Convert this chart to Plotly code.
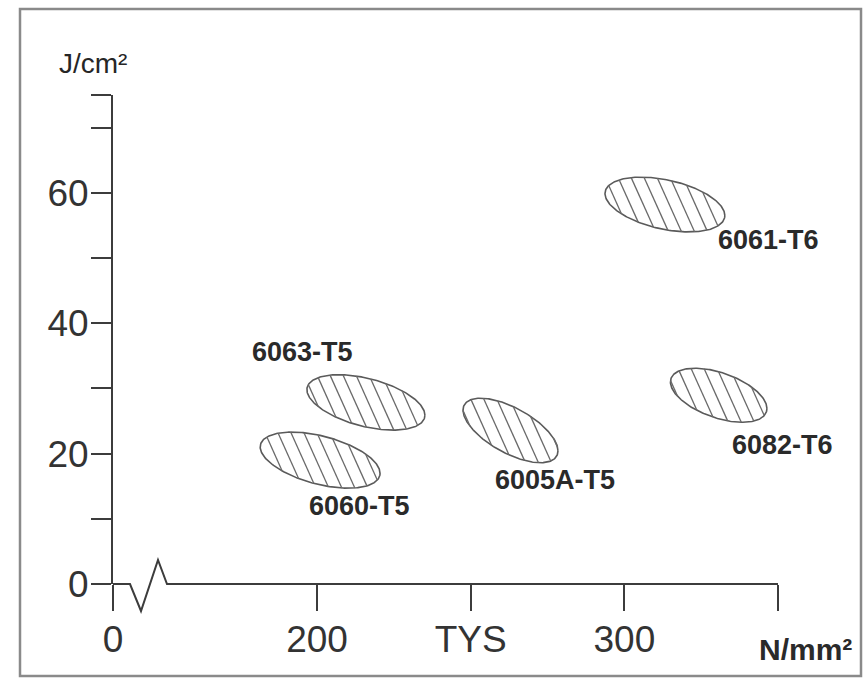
import numpy as np
import plotly.graph_objects as go

# Alloy bands: tensile yield strength (N/mm²) vs impact energy (J/cm²)
alloys = ["6060-T5", "6063-T5", "6005A-T5", "6061-T6", "6082-T6"]
tys_low = [181.5, 196.7, 247.5, 293.7, 315.0]
tys_high = [220.5, 235.1, 278.4, 332.7, 346.4]
energy_low = [14.7, 23.6, 18.6, 54.0, 24.8]
energy_high = [23.3, 32.1, 28.5, 62.4, 33.1]
# correlation between TYS and energy inside each band (gives the ellipse tilt)
band_corr = [-0.47, -0.46, -0.63, -0.40, -0.49]

# Axis ticks (x axis is broken between 0 and ~140)
X_BREAK = 133.6
x_tickvals = [X_BREAK, 200, 250, 300, 350]
x_ticktext = ["0", "200", "TYS", "300", ""]
y_tickvals = [0, 10, 20, 30, 40, 50, 60, 70, 75]
y_ticktext = ["0", "", "20", "", "40", "", "60", "", ""]

# ---- geometry --------------------------------------------------------------
FIG_W, FIG_H = 867, 681
M_L, M_R, M_T, M_B = 113, 89, 95, 97
X_RANGE = [X_BREAK, 350]
Y_RANGE = [0, 75]
plot_w = FIG_W - M_L - M_R
plot_h = FIG_H - M_T - M_B
sx = plot_w / (X_RANGE[1] - X_RANGE[0])  # px per N/mm²
sy = plot_h / (Y_RANGE[1] - Y_RANGE[0])  # px per J/cm²


def px_to_paper(px, py):
    """Figure pixel position -> paper coordinates of the plot area."""
    return (px - M_L) / plot_w, (FIG_H - M_B - py) / plot_h


AXIS_COLOR = "#3c3c3c"
OUTLINE_COLOR = "#5a5a5a"
HATCH_COLOR = "#6a6a6a"
FONT = "Liberation Sans, Arial, sans-serif"

HATCH_STEP = 13.0   # px between hatch lines, measured horizontally
HATCH_SLOPE = 0.45  # dx/dy of hatch lines in screen space (falls to the right)

fig = go.Figure()
annotations = []

label_shift = {  # label offset from band centre, px
    "6060-T5": (39, -46),
    "6063-T5": (-63, 50),
    "6005A-T5": (45, -50),
    "6061-T6": (104, -35),
    "6082-T6": (64, -50),
}

t = np.linspace(0, 2 * np.pi, 241)
for name, x0, x1, y0, y1, rho in zip(alloys, tys_low, tys_high,
                                     energy_low, energy_high, band_corr):
    cx, cy = (x0 + x1) / 2, (y0 + y1) / 2
    hw, hh = (x1 - x0) / 2 * sx, (y1 - y0) / 2 * sy
    # ellipse in screen-space offsets (y down)
    ex = hw * np.cos(t)
    ey = -hh * (rho * np.cos(t) + np.sqrt(1 - rho ** 2) * np.sin(t))
    fig.add_trace(go.Scatter(
        x=cx + ex / sx, y=cy - ey / sy, mode="lines",
        line=dict(color=OUTLINE_COLOR, width=1.6),
        hoverinfo="skip", showlegend=False))

    # diagonal hatching clipped to the ellipse
    ax = (cx - X_RANGE[0]) * sx + ex
    ay = (Y_RANGE[1] - cy) * sy + ey
    u = ax - HATCH_SLOPE * ay
    hx, hy = [], []
    c = np.ceil(u.min() / HATCH_STEP) * HATCH_STEP
    while c < u.max():
        pts = []
        for i in range(len(u) - 1):
            a, b = u[i] - c, u[i + 1] - c
            if a * b < 0:
                f = a / (a - b)
                pts.append((ex[i] + f * (ex[i + 1] - ex[i]),
                            ey[i] + f * (ey[i + 1] - ey[i])))
        if len(pts) >= 2:
            pts.sort(key=lambda p: p[1])
            (pxa, pya), (pxb, pyb) = pts[0], pts[-1]
            if np.hypot(pxb - pxa, pyb - pya) > 4:
                hx += [cx + pxa / sx, cx + pxb / sx, None]
                hy += [cy - pya / sy, cy - pyb / sy, None]
        c += HATCH_STEP
    fig.add_trace(go.Scatter(
        x=hx, y=hy, mode="lines",
        line=dict(color=HATCH_COLOR, width=1.3),
        hoverinfo="skip", showlegend=False))

    dx, dy = label_shift[name]
    annotations.append(dict(
        x=cx, y=cy, xref="x", yref="y", text=f"<b>{name}</b>",
        showarrow=False, xshift=dx, yshift=dy,
        xanchor="center", yanchor="middle",
        font=dict(family=FONT, size=27, color="#2a2a2a")))

# unit labels
jx, jy = px_to_paper(93, 63)
annotations.append(dict(x=jx, y=jy, xref="paper", yref="paper",
                        text="J/cm²", showarrow=False,
                        xanchor="center", yanchor="middle",
                        font=dict(family=FONT, size=28, color="#262626")))
nx, ny = px_to_paper(806, 649)
annotations.append(dict(x=nx, y=ny, xref="paper", yref="paper",
                        text="<b>N/mm²</b>", showarrow=False,
                        xanchor="center", yanchor="middle",
                        font=dict(family=FONT, size=30, color="#2a2a2a")))

# broken x-axis baseline with a zig-zag just right of the origin
zig = [(0, 0), (17, 0), (28, 27), (45, -24), (54, 0)]
path_pts = [px_to_paper(M_L + dx, FIG_H - M_B + dy) for dx, dy in zig]
path_pts.append((1.0, 0.0))
path = "M " + " L ".join(f"{p[0]:.5f},{p[1]:.5f}" for p in path_pts)

shapes = [
    dict(type="path", path=path, xref="paper", yref="paper",
         line=dict(color=AXIS_COLOR, width=2)),
]
# outer frame
fx0, fy0 = px_to_paper(20, 676)
fx1, fy1 = px_to_paper(861, 9)
shapes.append(dict(type="rect", xref="paper", yref="paper",
                   x0=fx0, y0=fy0, x1=fx1, y1=fy1,
                   line=dict(color="#8a8a8a", width=2.5)))

fig.update_layout(
    width=FIG_W, height=FIG_H,
    margin=dict(l=M_L, r=M_R, t=M_T, b=M_B, pad=0),
    paper_bgcolor="white", plot_bgcolor="white",
    showlegend=False,
    shapes=shapes, annotations=annotations,
    xaxis=dict(range=X_RANGE, tickvals=x_tickvals, ticktext=x_ticktext,
               ticks="outside", ticklen=26, tickwidth=2, tickcolor=AXIS_COLOR,
               ticklabelstandoff=-3,
               showline=False, showgrid=False, zeroline=False,
               tickfont=dict(family=FONT, size=37, color="#333333"),
               fixedrange=True),
    yaxis=dict(range=Y_RANGE, tickvals=y_tickvals, ticktext=y_ticktext,
               ticks="outside", ticklen=20, tickwidth=2, tickcolor=AXIS_COLOR,
               ticklabelstandoff=-5,
               showline=True, linecolor=AXIS_COLOR, linewidth=2,
               showgrid=False, zeroline=False,
               tickfont=dict(family=FONT, size=37, color="#333333"),
               fixedrange=True),
)

fig.write_html("out.html")
